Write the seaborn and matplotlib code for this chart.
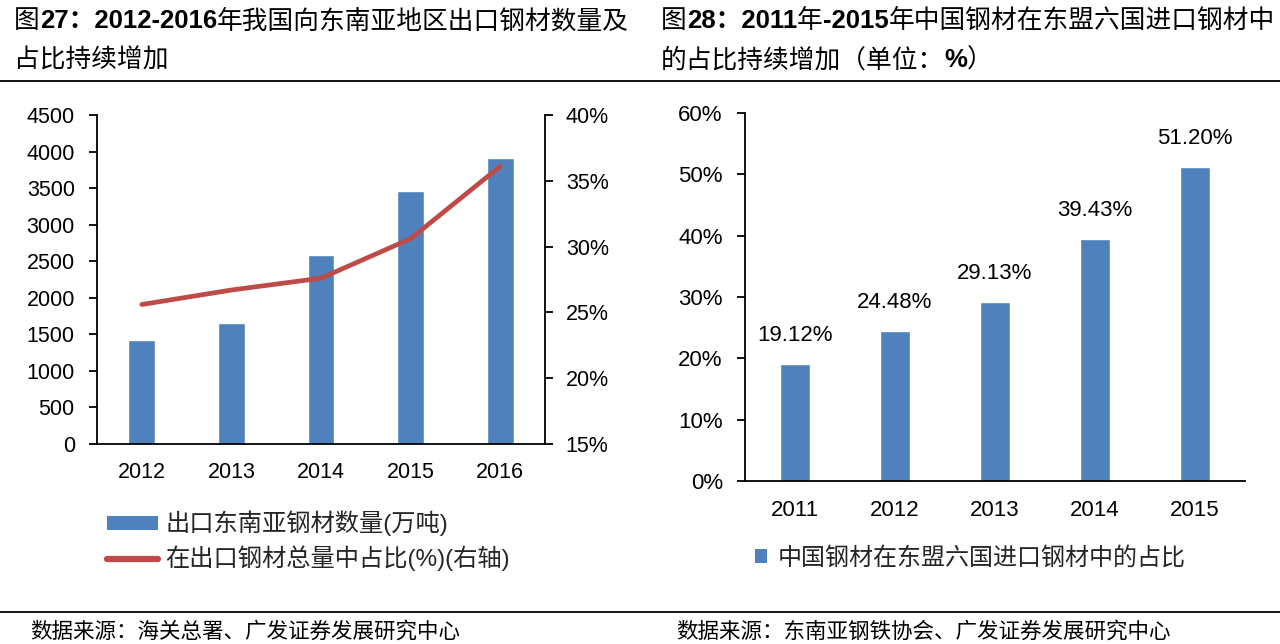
import numpy as np
import pandas as pd
import matplotlib
matplotlib.use("Agg")
import matplotlib.pyplot as plt
import seaborn as sns
from matplotlib.patches import Patch
from matplotlib.lines import Line2D
from matplotlib.ticker import FuncFormatter, MultipleLocator

# ---------------- data ----------------
years_left = ["2012", "2013", "2014", "2015", "2016"]
export_volume = [1416, 1654, 2581, 3463, 3910]          # 万吨
export_share = [25.6, 26.7, 27.6, 30.6, 36.1]           # % (right axis)

years_right = ["2011", "2012", "2013", "2014", "2015"]
asean_share = [19.12, 24.48, 29.13, 39.43, 51.20]       # %

legend_left = ["出口东南亚钢材数量(万吨)", "在出口钢材总量中占比(%)(右轴)"]
legend_right = "中国钢材在东盟六国进口钢材中的占比"
source_left = "数据来源：海关总署、广发证券发展研究中心"
source_right = "数据来源：东南亚钢铁协会、广发证券发展研究中心"

title_left_1 = [("图", "normal"), ("27：2012-2016", "bold"), ("年我国向东南亚地区出口钢材数量及", "normal")]
title_left_2 = [("占比持续增加", "normal")]
title_right_1 = [("图", "normal"), ("28：2011", "bold"), ("年", "normal"), ("-2015", "bold"),
                 ("年中国钢材在东盟六国进口钢材中", "normal")]
title_right_2 = [("的占比持续增加（单位：", "normal"), ("%", "bold"), ("）", "normal")]

BLUE = "#4F81BD"
RED = "#BE4B48"

sns.set_theme(style="ticks")
FAM = ["Liberation Sans", "Noto Sans CJK SC", "DejaVu Sans"]
plt.rcParams["font.family"] = FAM
plt.rcParams["axes.unicode_minus"] = False

W, H = 1280, 644
fig = plt.figure(figsize=(W / 100, H / 100), dpi=100)


def fx(px):
    return px / W


def fy(py):
    return 1 - py / H


def rect(x0, y0, x1, y1):
    return [fx(x0), fy(y1), fx(x1) - fx(x0), fy(y0) - fy(y1)]


# ---------------- left chart ----------------
axL = fig.add_axes(rect(97, 115, 545, 444))
dfL = pd.DataFrame({"year": years_left, "volume": export_volume, "share": export_share})
sns.barplot(data=dfL, x="year", y="volume", color=BLUE, saturation=1, width=0.30, ax=axL)
axL.set_ylim(0, 4500)
axL.yaxis.set_major_locator(MultipleLocator(500))
axL.set_xlim(-0.5, 4.5)
axL.set_xlabel("")
axL.set_ylabel("")

axR = axL.twinx()
sns.lineplot(x=np.arange(len(years_left)), y=dfL["share"], color=RED, lw=3.4, ax=axR, sort=False)
axR.set_ylim(15, 40)
axR.yaxis.set_major_locator(MultipleLocator(5))
axR.yaxis.set_major_formatter(FuncFormatter(lambda v, p: f"{v:.0f}%"))
axR.set_ylabel("")
axR.set_xlim(-0.5, 4.5)

for ax in (axL, axR):
    for s in ax.spines.values():
        s.set_color("black")
        s.set_linewidth(1.3)
    ax.spines["top"].set_visible(False)
axL.spines["right"].set_visible(False)
axR.spines["left"].set_visible(False)
axR.spines["bottom"].set_visible(False)
axL.tick_params(axis="y", length=6, width=1.3, color="black", labelsize=15.5, pad=10, labelcolor="black")
axL.tick_params(axis="x", length=0, labelsize=15.5, pad=13, labelcolor="black")
axR.tick_params(axis="y", length=6, width=1.3, color="black", labelsize=15.5, pad=9, labelcolor="black")

# ---------------- right chart ----------------
ax2 = fig.add_axes(rect(745, 113, 1245, 481))
dfR = pd.DataFrame({"year": years_right, "share": asean_share})
sns.barplot(data=dfR, x="year", y="share", color=BLUE, saturation=1, width=0.30, ax=ax2)
ax2.set_ylim(0, 60)
ax2.set_xlim(-0.5, 4.5)
ax2.yaxis.set_major_locator(MultipleLocator(10))
ax2.yaxis.set_major_formatter(FuncFormatter(lambda v, p: f"{v:.0f}%"))
ax2.set_xlabel("")
ax2.set_ylabel("")
for s in ax2.spines.values():
    s.set_color("black")
    s.set_linewidth(1.3)
ax2.spines["top"].set_visible(False)
ax2.spines["right"].set_visible(False)
ax2.tick_params(axis="y", length=6, width=1.3, color="black", labelsize=16, pad=10, labelcolor="black")
ax2.tick_params(axis="x", length=0, labelsize=16, pad=14, labelcolor="black")
ax2.bar_label(ax2.containers[0], labels=[f"{v:.2f}%" for v in asean_share],
              padding=13, fontsize=16, color="black")

# ---------------- legends ----------------
hL = [Patch(facecolor=BLUE, edgecolor="none"), Line2D([0], [0], color=RED, lw=4.5, solid_capstyle="round")]
legL = fig.legend(hL, legend_left, loc="center left", bbox_to_anchor=(fx(107), fy(541)),
                  frameon=False, fontsize=17.5, handlelength=2.1, handleheight=0.5,
                  handletextpad=0.3, labelspacing=0.38, borderpad=0, borderaxespad=0)
hR = [Patch(facecolor=BLUE, edgecolor="none")]
legR = fig.legend(hR, [legend_right], loc="center left", bbox_to_anchor=(fx(755), fy(558)),
                  frameon=False, fontsize=17.3, handlelength=0.5, handleheight=0.5,
                  handletextpad=0.45, borderpad=0, borderaxespad=0)

# ---------------- titles ----------------
def chain(parts, x, y, size=18.5):
    prev = None
    for txt, wt in parts:
        if prev is None:
            prev = fig.text(fx(x), fy(y), txt, fontsize=size, fontweight=wt, ha="left", va="center",
                            color="black")
        else:
            prev = axL.annotate(txt, xy=(1, 0.5), xycoords=prev, fontsize=size, fontweight=wt,
                                ha="left", va="center", color="black", annotation_clip=False)
    return prev


chain(title_left_1, 14, 21)
chain(title_left_2, 14, 60)
chain(title_right_1, 661, 21)
chain(title_right_2, 661, 60)

for yy in (81, 612):
    fig.add_artist(Line2D([0, 1], [fy(yy), fy(yy)], transform=fig.transFigure, color="black", lw=1.3))

fig.text(fx(30), fy(632), source_left, fontsize=15.5, ha="left", va="center", color="black")
fig.text(fx(676), fy(632), source_right, fontsize=15.5, ha="left", va="center", color="black")

fig.savefig("out.png", dpi=100)
